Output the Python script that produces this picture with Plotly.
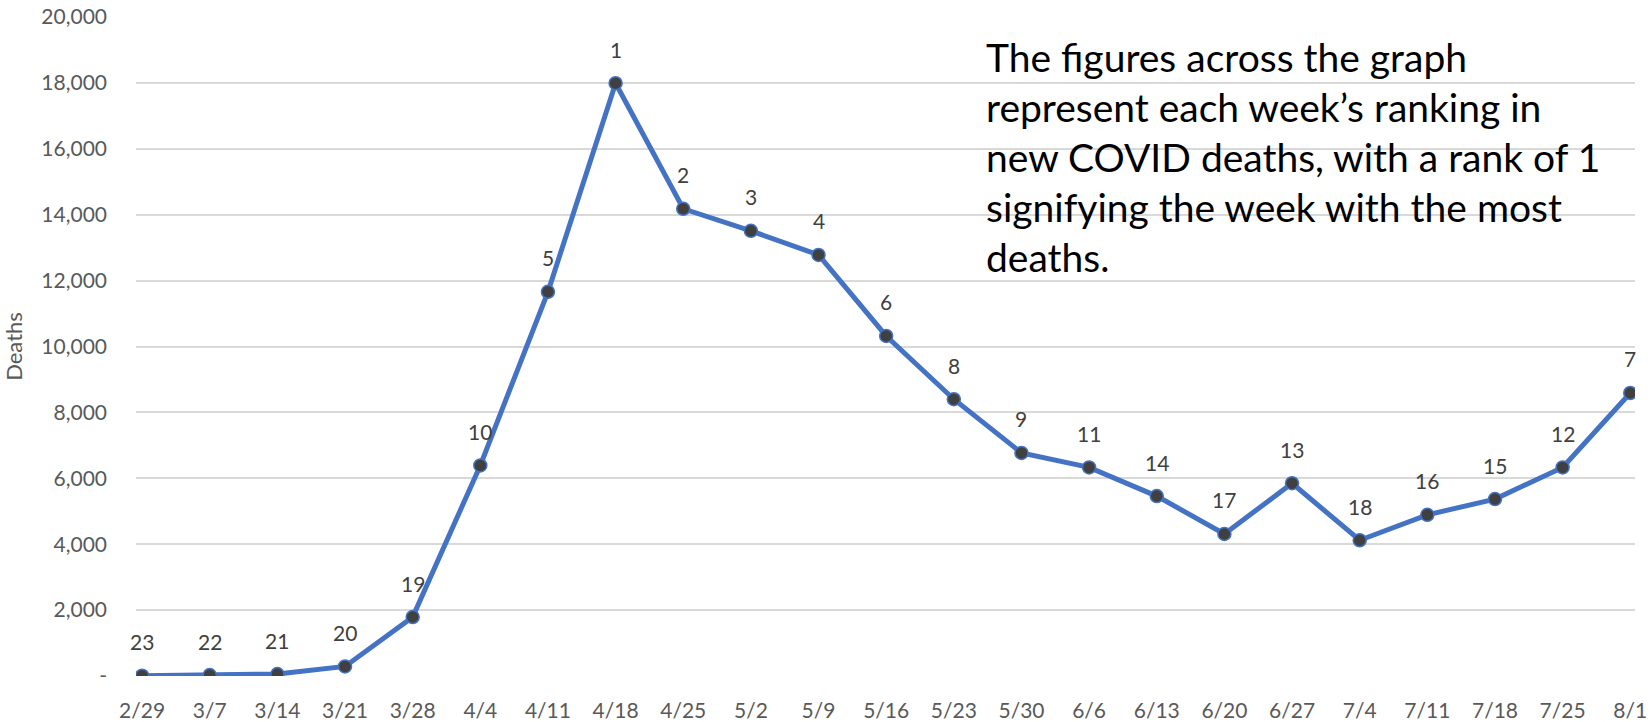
import plotly.graph_objects as go

weeks = ["2/29", "3/7", "3/14", "3/21", "3/28", "4/4", "4/11", "4/18", "4/25", "5/2", "5/9",
         "5/16", "5/23", "5/30", "6/6", "6/13", "6/20", "6/27", "7/4", "7/11", "7/18", "7/25", "8/1"]
deaths = [10, 30, 60, 290, 1790, 6390, 11660, 17990, 14180, 13510, 12780,
          10320, 8400, 6770, 6330, 5460, 4310, 5850, 4120, 4890, 5370, 6330, 8590]
ranks = [23, 22, 21, 20, 19, 10, 5, 1, 2, 3, 4, 6, 8, 9, 11, 14, 17, 13, 18, 16, 15, 12, 7]

y_ticks = [0, 2000, 4000, 6000, 8000, 10000, 12000, 14000, 16000, 18000, 20000]
y_tick_text = ["-" if v == 0 else f"{v:,}" for v in y_ticks]

note_lines = [
    "The figures across the graph",
    "represent each week\u2019s ranking in",
    "new COVID deaths, with a rank of 1",
    "signifying the week with the most",
    "deaths.",
]

FONT = "Lato"
idx = list(range(len(weeks)))

fig = go.Figure()
fig.add_trace(go.Scatter(
    x=idx, y=deaths, mode="lines+markers",
    line=dict(color="#4472C4", width=5),
    marker=dict(size=13, color="#404040", line=dict(color="#4472C4", width=1.5)),
    hoverinfo="skip", showlegend=False,
))

for i, (v, r) in enumerate(zip(deaths, ranks)):
    fig.add_annotation(x=i, y=v, text=str(r), showarrow=False, yshift=34,
                       font=dict(family=FONT, size=21, color="#404040"))

for k, line in enumerate(note_lines):
    fig.add_annotation(xref="paper", yref="paper", x=(984 - 136) / 1499,
                       y=1 - (57 + 50 * k - 17) / 659,
                       xanchor="left", yanchor="middle", text=line, showarrow=False,
                       font=dict(family=FONT, size=39, color="#000000"))

fig.update_layout(
    width=1651, height=722,
    margin=dict(l=136, r=16, t=17, b=46),
    paper_bgcolor="white", plot_bgcolor="white",
    font=dict(family=FONT, color="#595959", size=21),
)
fig.update_xaxes(
    tickmode="array", tickvals=idx, ticktext=weeks, automargin=False,
    range=[-0.09, 22.07], showgrid=False, zeroline=False, showline=False,
    ticks="", ticklabelstandoff=20, ticklabeloverflow="allow",
    tickfont=dict(size=21, color="#595959"),
)
fig.update_yaxes(
    tickmode="array", tickvals=y_ticks, ticktext=y_tick_text, automargin=False,
    range=[0, 20000], showgrid=True, gridcolor="#d9d9d9", gridwidth=1.5,
    zeroline=False, showline=False, ticks="", ticklabelstandoff=28,
    ticklabeloverflow="allow",
    tickfont=dict(size=21, color="#595959"),
    title=dict(text="Deaths", font=dict(size=22, color="#595959"), standoff=32),
)

# remove the browser's default 8px body margin so the figure fills the window exactly
fig.write_html("out.html", config={"displayModeBar": False},
               post_script="document.body.style.margin='0';")
